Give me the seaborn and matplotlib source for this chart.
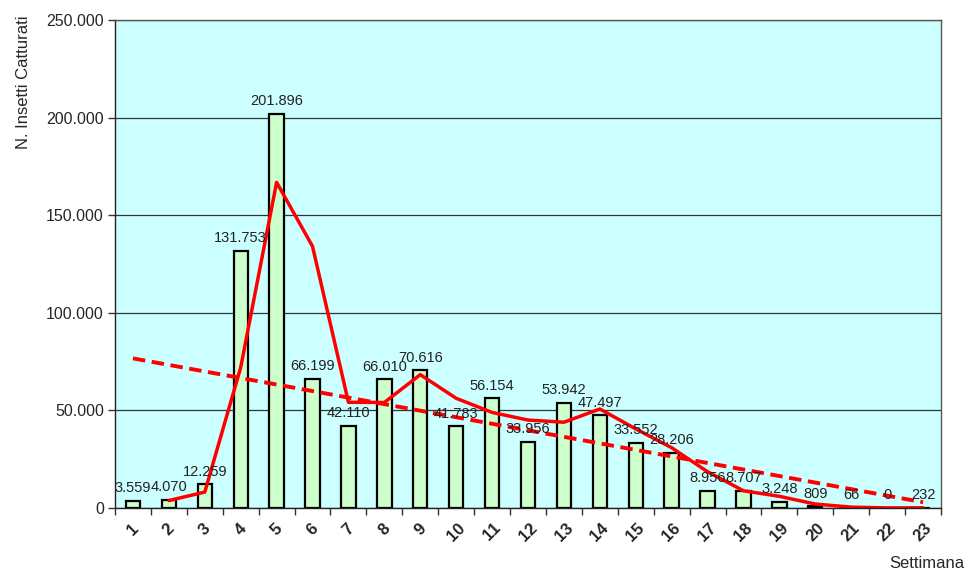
import numpy as np
import pandas as pd
import matplotlib
matplotlib.use("Agg")
import matplotlib.pyplot as plt
from matplotlib.ticker import FuncFormatter, FixedLocator
import seaborn as sns

weeks = list(range(1, 24))
catturati = [3559, 4070, 12259, 131753, 201896, 66199, 42110, 66010, 70616,
             41783, 56154, 33956, 53942, 47497, 33552, 28206, 8956, 8707,
             3248, 809, 66, 0, 232]
y_ticks = [0, 50000, 100000, 150000, 200000, 250000]

sns.set_theme(style="white")
plt.rcParams['font.family'] = ['Liberation Sans', 'DejaVu Sans']

df = pd.DataFrame({"Settimana": weeks, "Insetti": catturati})
# Excel-style trendlines derived from the data
df["MediaMobile"] = df["Insetti"].rolling(2).mean()
coef = np.polyfit(df["Settimana"], df["Insetti"], 1)
df["Tendenza"] = np.polyval(coef, df["Settimana"])

fig = plt.figure(figsize=(9.68, 5.72), dpi=100)
ax = fig.add_axes([115/968, 1 - 508/572, 826/968, 488/572])
ax.set_facecolor("#CCFFFF")

sns.barplot(data=df, x="Settimana", y="Insetti", native_scale=True, width=0.4,
            color="#CCFFCC", edgecolor="black", linewidth=1.6, saturation=1, ax=ax)
sns.lineplot(data=df.dropna(), x="Settimana", y="MediaMobile", color="#FF0000",
             linewidth=2.5, ax=ax)
sns.lineplot(data=df, x="Settimana", y="Tendenza", color="#FF0000",
             linewidth=2.8, ax=ax, dashes=False, linestyle=(0, (3.2, 1.7)))

for w, v in zip(weeks, catturati):
    ax.annotate(f"{v:,}".replace(",", "."), (w, v), xytext=(0, 4),
                textcoords="offset points", ha="center", va="bottom",
                fontsize=10.5, color="#222222")

ax.set_xlim(0.5, 23.5)
ax.set_ylim(0, 250000)
ax.yaxis.set_major_locator(FixedLocator(y_ticks))
ax.yaxis.set_major_formatter(FuncFormatter(lambda v, p: f"{v:,.0f}".replace(",", ".")))
ax.grid(axis="y", color="#333333", linewidth=0.9)
ax.set_axisbelow(True)

ax.set_xticks(weeks)
ax.set_xticklabels([str(w) for w in weeks], rotation=45, fontweight="bold",
                   fontsize=12, ha="center")
ax.set_xticks([w + 0.5 for w in range(0, 24)], minor=True)
ax.tick_params(axis="x", which="major", length=0, pad=9)
ax.tick_params(axis="x", which="minor", length=5, width=1, color="#333333",
               direction="out", bottom=True)
ax.tick_params(axis="y", length=5, width=1, color="#333333", direction="out",
               left=True, labelsize=11.5, pad=3)

for s in ax.spines.values():
    s.set_color("#555555")
    s.set_linewidth(1.0)
ax.spines["left"].set_color("#222222")
ax.spines["bottom"].set_color("#222222")

ax.set_ylabel("N. Insetti Catturati", fontsize=12, va="center")
ax.yaxis.set_label_coords(-0.111, 0.873)
ax.set_xlabel("Settimana", fontsize=12, va="center")
ax.xaxis.set_label_coords(0.983, -0.113)

fig.savefig("out.png", dpi=100)
